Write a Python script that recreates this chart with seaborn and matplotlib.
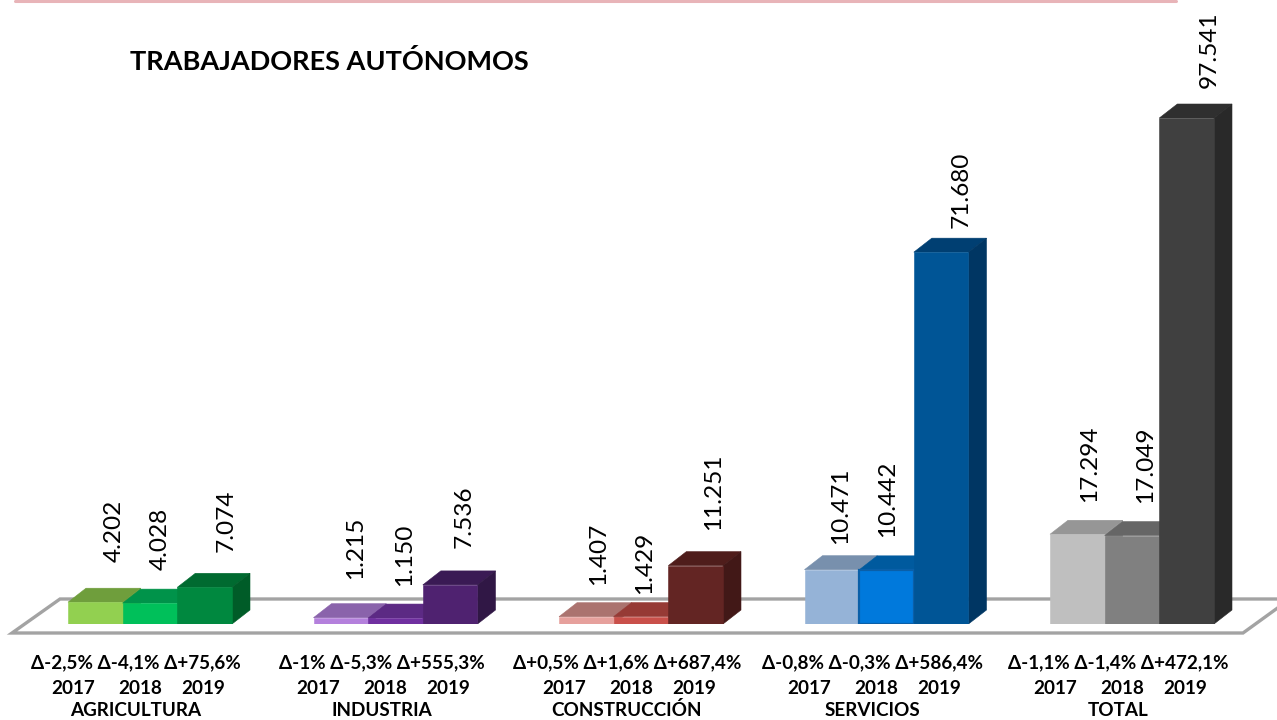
#!/usr/bin/env python3
"""Trabajadores autonomos por sector, 2017-2019, with fake 3D bars."""
import pandas as pd
import matplotlib
matplotlib.use("Agg")
import matplotlib.pyplot as plt
from matplotlib.patches import Polygon
import seaborn as sns

# data
sectors = ['AGRICULTURA', 'INDUSTRIA', 'CONSTRUCCIÓN', 'SERVICIOS', 'TOTAL']
years = ['2017', '2018', '2019']
values_2017 = [4202, 1215, 1407, 10471, 17294]
values_2018 = [4028, 1150, 1429, 10442, 17049]
values_2019 = [7074, 7536, 11251, 71680, 97541]
value_labels_2017 = ['4.202', '1.215', '1.407', '10.471', '17.294']
value_labels_2018 = ['4.028', '1.150', '1.429', '10.442', '17.049']
value_labels_2019 = ['7.074', '7.536', '11.251', '71.680', '97.541']
delta_labels = [
    'Δ-2,5% Δ-4,1% Δ+75,6%',
    'Δ-1% Δ-5,3% Δ+555,3%',
    'Δ+0,5% Δ+1,6% Δ+687,4%',
    'Δ-0,8% Δ-0,3% Δ+586,4%',
    'Δ-1,1% Δ-1,4% Δ+472,1%',
]

# colours per year: front, top, side
fronts = {
    '2017': ['#92D050', '#B480DC', '#E6A09C', '#95B3D7', '#BFBFBF'],
    '2018': ['#00C05A', '#7030A0', '#C9504A', '#0079DC', '#808080'],
    '2019': ['#00883F', '#4F2270', '#632523', '#005596', '#404040'],
}
tops = {
    '2017': ['#6F9E3C', '#8A63AB', '#AB736F', '#7890AD', '#969696'],
    '2018': ['#00934A', '#5C2A84', '#963A35', '#005A9E', '#666666'],
    '2019': ['#006A30', '#3A1A54', '#4F1D1B', '#003F72', '#2F2F2F'],
}
sides = {
    '2017': ['#6F9E3C', '#8A63AB', '#AB736F', '#7890AD', '#969696'],
    '2018': ['#00934A', '#5C2A84', '#963A35', '#005A9E', '#666666'],
    '2019': ['#005C28', '#301745', '#421817', '#003663', '#292929'],
}

# label nudges in pixels from the centre of the bar top (they were placed by hand)
label_dx = {
    '2017': [19, 15, 12, 9, 12],
    '2018': [10, 9, 4, 1, 14],
    '2019': [21, 14, 18, 20, 23],
}
label_dy = {
    '2017': [40, 39, 32, 26, 32],
    '2018': [33, 32, 23, 33, 33],
    '2019': [35, 37, 36, 24, 30],
}
year_dx = {'2017': -77, '2018': -10, '2019': 53}

W, H = 1277, 720
DEPTH_X, DEPTH_Y = 18, 14
BASE_Y = 624
PX_PER_UNIT = 506 / 97541


def main():
    sns.set_theme(style='white')
    plt.rcParams['font.family'] = ['Lato', 'DejaVu Sans']

    df = pd.DataFrame({
        'sector': sectors * 3,
        'year': [y for y in years for _ in sectors],
        'value': values_2017 + values_2018 + values_2019,
    })

    fig = plt.figure(figsize=(W / 100, H / 100), dpi=100, facecolor='white')
    ax_left, ax_right = 27.25, 1254.75
    ax = fig.add_axes([ax_left / W, (H - BASE_Y) / H, (ax_right - ax_left) / W, BASE_Y / H])
    ax.patch.set_alpha(0)

    sns.barplot(data=df, x='sector', y='value', hue='year', order=sectors, hue_order=years,
                width=0.668, gap=0, saturation=1, legend=False, ax=ax)
    ax.set_xlim(-0.5, 4.5)
    ax.set_ylim(0, BASE_Y / PX_PER_UNIT)
    ax.axis('off')

    depth_x = DEPTH_X * 5 / (ax_right - ax_left)
    depth_y = DEPTH_Y / PX_PER_UNIT

    # floor of the chart and the pink rule on top
    floor = Polygon([(12 / W, 1 - 633 / H), (60 / W, 1 - 599 / H), (1290 / W, 1 - 599 / H),
                     (1243 / W, 1 - 633 / H)], closed=True, transform=fig.transFigure,
                    facecolor='white', edgecolor='#A3A3A3', linewidth=2.4, zorder=-1)
    fig.add_artist(floor)
    fig.add_artist(plt.Line2D([15 / W, 1176 / W], [1 - 1 / H, 1 - 1 / H], color='#E8B4B8', linewidth=2.2))

    # sides and tops for every bar, drawn left to right so each one hides the previous
    all_labels = {'2017': value_labels_2017, '2018': value_labels_2018, '2019': value_labels_2019}
    for yi, (year, cont) in enumerate(zip(years, ax.containers)):
        for si, bar in enumerate(cont):
            x0, x1, h = bar.get_x(), bar.get_x() + bar.get_width(), bar.get_height()
            z = 2 + yi
            bar.set_facecolor(fronts[year][si])
            bar.set_edgecolor(fronts[year][si])
            bar.set_linewidth(0.4)
            bar.set_zorder(z + 0.5)
            ax.add_patch(Polygon([(x0, h), (x0 + depth_x, h + depth_y), (x1 + depth_x, h + depth_y), (x1, h)],
                                 closed=True, facecolor=tops[year][si], edgecolor=tops[year][si],
                                 linewidth=0.4, zorder=z))
            ax.add_patch(Polygon([(x1, 0), (x1 + depth_x, depth_y), (x1 + depth_x, h + depth_y), (x1, h)],
                                 closed=True, facecolor=sides[year][si], edgecolor=sides[year][si],
                                 linewidth=0.4, zorder=z))
            ax.annotate(all_labels[year][si], xy=((x0 + x1) / 2, h), xycoords='data',
                        xytext=(label_dx[year][si], label_dy[year][si]), textcoords='offset pixels',
                        rotation=90, ha='center', va='bottom', fontsize=17.6, color='black',
                        annotation_clip=False, zorder=10)

    # the blue 2018 servicios bar has its own outline
    serv = ax.containers[1][3]
    serv.set_edgecolor('#0A5FA8')
    serv.set_linewidth(1.6)

    # labels under the floor
    trans = ax.get_xaxis_transform()
    for si, sector in enumerate(sectors):
        for txt, dx, py in [(delta_labels[si], -14, 663), (sector, -14, 710)]:
            ax.annotate(txt, xy=(si, 0), xycoords=trans, xytext=(dx, BASE_Y - py),
                        textcoords='offset pixels', ha='center', va='center', fontsize=13.6,
                        fontweight='bold', color='black', annotation_clip=False)
        for year in years:
            ax.annotate(year, xy=(si, 0), xycoords=trans, xytext=(year_dx[year], BASE_Y - 688),
                        textcoords='offset pixels', ha='center', va='center', fontsize=13.6,
                        fontweight='bold', color='black', annotation_clip=False)

    fig.text(130 / W, 1 - 62 / H, 'TRABAJADORES AUTÓNOMOS', fontsize=19.5, fontweight='bold',
             color='black', ha='left', va='center')

    fig.savefig('out.png', dpi=100, facecolor='white')
    plt.close(fig)


if __name__ == '__main__':
    main()
